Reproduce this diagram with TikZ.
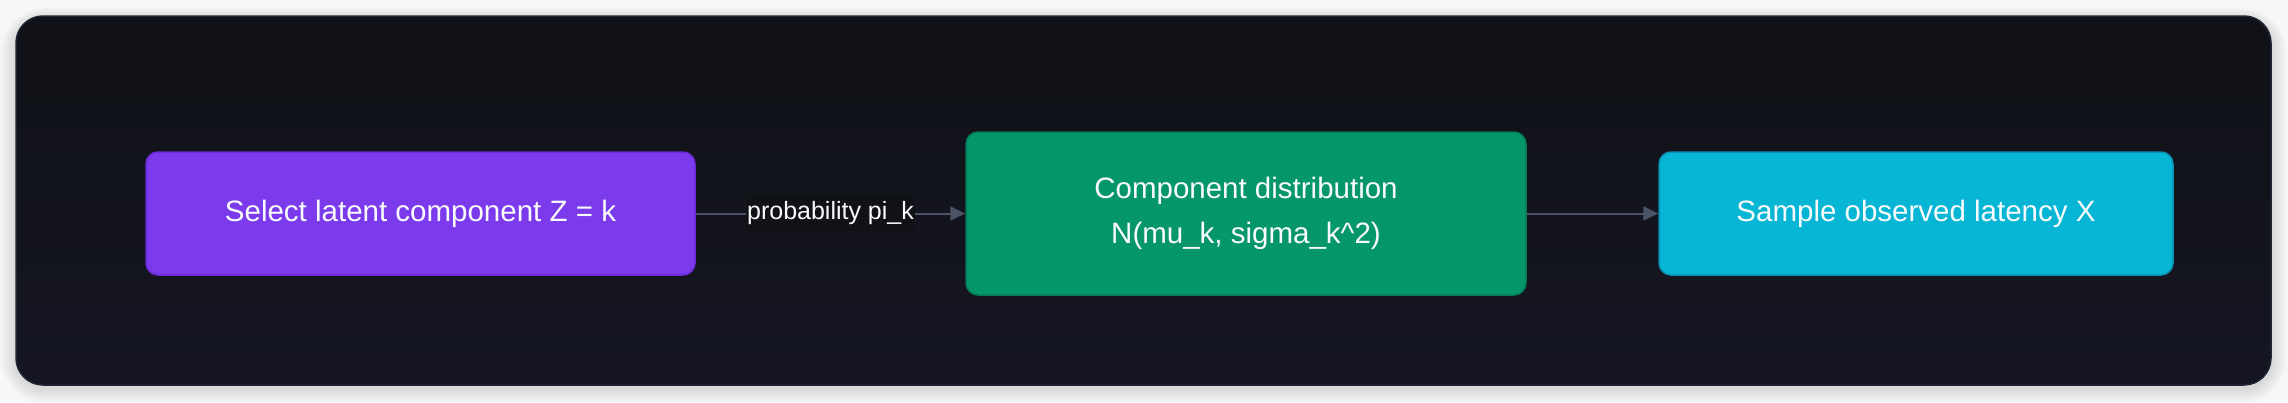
\documentclass[tikz,border=0pt]{standalone}
\usepackage{fontspec}
\setmainfont{Liberation Sans}
\usetikzlibrary{arrows.meta}
\definecolor{pagebg}{HTML}{F7F7F8}
\definecolor{paneltop}{HTML}{101217}
\definecolor{panelbot}{HTML}{151622}
\definecolor{panelline}{HTML}{1F2535}
\definecolor{violetfill}{HTML}{7C3AED}
\definecolor{violetline}{HTML}{6D28D9}
\definecolor{greenfill}{HTML}{059669}
\definecolor{greenline}{HTML}{047857}
\definecolor{cyanfill}{HTML}{06B6D4}
\definecolor{cyanline}{HTML}{0891B2}
\definecolor{arrowcol}{HTML}{4A5466}
\definecolor{labelbg}{HTML}{101216}
\definecolor{txtwhite}{HTML}{F8FAFC}
\tikzset{
  stagebox/.style={draw, line width=0.75pt, rounded corners=6pt, align=center,
    text=txtwhite, font=\fontsize{14.75}{22.5}\selectfont, inner sep=0pt},
  flowarrow/.style={draw=arrowcol, line width=1pt, -{Triangle[length=7.5pt,width=7pt]}},
  edgelabel/.style={fill=labelbg, text=txtwhite, font=\fontsize{12.5}{15}\selectfont,
    inner xsep=0.5pt, inner ysep=3pt}
}
\begin{document}
\begin{tikzpicture}[x=0.5pt,y=-0.5pt]
  % page
  \fill[pagebg] (0,0) rectangle (2288,402);
  \useasboundingbox (0,0) rectangle (2288,402);
  % shadow
  \foreach \i in {1,...,10}{
    \fill[black, opacity=0.012, rounded corners={(13.5+\i)*1pt}]
      ({16-1.6*\i},{16-1.2*\i+3}) rectangle ({2271+1.6*\i},{385+1.6*\i+3});
  }
  % panel
  \shade[top color=paneltop, bottom color=panelbot, rounded corners=13.5pt]
    (16,16) rectangle (2271,385);
  \draw[panelline, line width=0.75pt, rounded corners=13.5pt]
    (16,16) rectangle (2271,385);
  % boxes
  \node[stagebox, fill=violetfill, draw=violetline,
        minimum width=274.5pt, minimum height=61.5pt] (select) at (420.5,213.5)
        {Select latent component Z = k};
  \node[stagebox, fill=greenfill, draw=greenline,
        minimum width=280pt, minimum height=81.5pt] (dist) at (1246,213.5)
        {Component distribution\\N(mu\_k, sigma\_k\^{}2)};
  \node[stagebox, fill=cyanfill, draw=cyanline,
        minimum width=257pt, minimum height=61.5pt] (sample) at (1916,213.5)
        {Sample observed latency X};
  % connectors
  \draw[flowarrow] (select) -- node[edgelabel] (lab) {probability pi\_k} (dist);
  \draw[flowarrow] (dist) -- (sample);
\end{tikzpicture}
\end{document}
